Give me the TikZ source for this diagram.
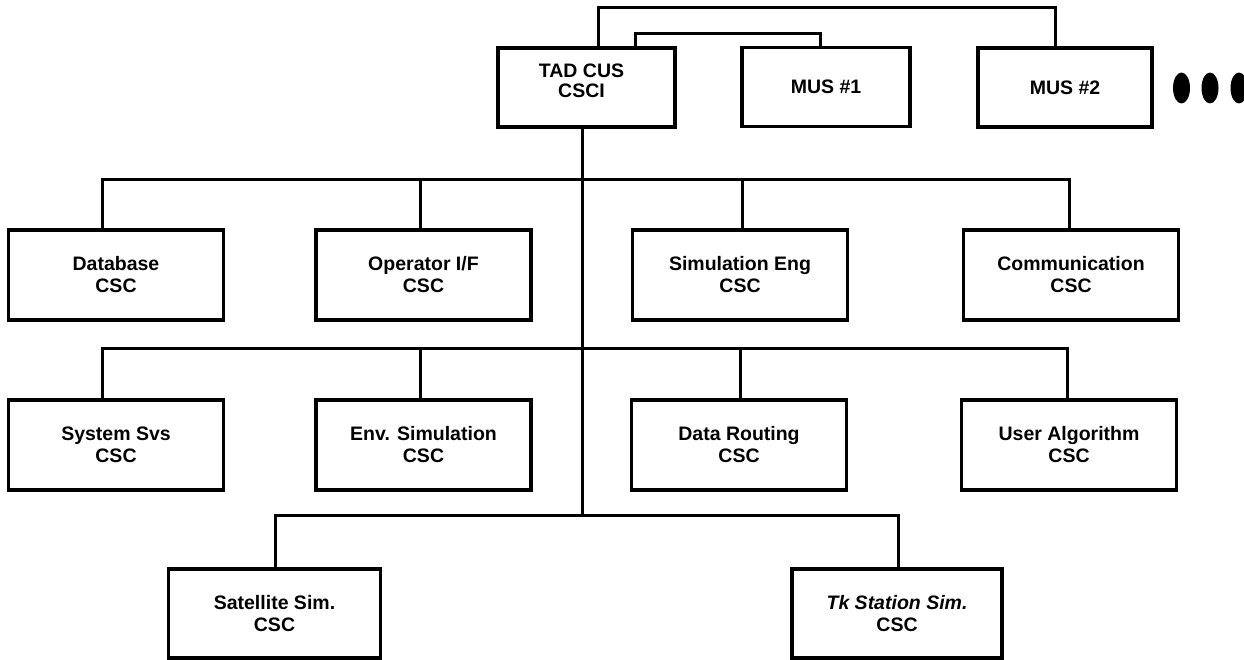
\documentclass[tikz,border=0pt]{standalone}
\usepackage{fontspec}
\setmainfont{Liberation Sans}
\begin{document}
\begin{tikzpicture}[x=1pt,y=-1pt,
  box/.style={draw, line width=3.4pt, align=center, inner sep=0pt,
    font=\bfseries\fontsize{19.5}{22}\selectfont},
  topbox/.style={box, minimum height=79pt},
  cscbox/.style={box, minimum height=90pt, minimum width=215pt},
  botbox/.style={box, minimum height=89pt, minimum width=212pt},
  conn/.style={line width=3pt, line cap=rect, line join=miter},
  dot/.style={fill=black, draw=none}]
\useasboundingbox (0,0) rectangle (1244,660);
\clip (0,0) rectangle (1244,660);

% top row
\node[topbox, minimum width=177pt,
  label={[shift={(-5pt,7pt)}, font=\bfseries\fontsize{19.5}{20}\selectfont, align=center]center:TAD CUS\\CSCI}]
  (tad) at (586.5,87.5) {};
\node[topbox, minimum width=168pt] (mus1) at (826,87) {MUS \#1};
\node[topbox, minimum width=174pt] (mus2) at (1065,87.5) {MUS \#2};

% continuation dots
\fill[dot] (1181.5,88) ellipse [x radius=8.5pt, y radius=15.5pt];
\fill[dot] (1210,88) ellipse [x radius=8.5pt, y radius=15.5pt];
\fill[dot] (1239,88) ellipse [x radius=8.5pt, y radius=15.5pt];

% level 1
\node[cscbox] (db)   at (116,275)   {Database\\CSC};
\node[cscbox] (op)   at (423.5,275) {Operator I/F\\CSC};
\node[cscbox] (sim)  at (740,275)   {Simulation Eng\\CSC};
\node[cscbox] (comm) at (1071,275)  {Communication\\CSC};

% level 2
\node[cscbox] (sys)  at (116,445)   {System Svs\\CSC};
\node[cscbox] (env)  at (423.5,445) {Env. Simulation\\CSC};
\node[cscbox] (dr)   at (739,445)   {Data Routing\\CSC};
\node[cscbox] (ua)   at (1069,445)  {User Algorithm\\CSC};

% level 3
\node[botbox] (sat) at (274.5,613.5) {Satellite Sim.\\CSC};
\node[botbox, minimum width=210pt] (tk) at (897,613.5) {\itshape Tk Station Sim.\\CSC};

% junction coordinates
\coordinate (o1) at (598,8);
\coordinate (o2) at (1055,8);
\coordinate (i1) at (635,34);
\coordinate (i2) at (820,34);
\coordinate (t1) at (582,515);
\coordinate (a1) at (102,180);
\coordinate (a2) at (420,180);
\coordinate (a3) at (742,180);
\coordinate (a4) at (1069,180);
\coordinate (b1) at (102,348);
\coordinate (b2) at (420,348);
\coordinate (b3) at (740,348);
\coordinate (b4) at (1067,348);
\coordinate (c1) at (275,515);
\coordinate (c2) at (898,515);

% top connectors
\draw[conn] (o1 |- tad.north) -- (o1) -- (o2) -- (o2 |- mus2.north);
\draw[conn] (i1 |- tad.north) -- (i1) -- (i2) -- (i2 |- mus1.north);

% trunk
\draw[conn] (t1 |- tad.south) -- (t1);

% level 1 bus
\draw[conn] (a1) -- (a4);
\draw[conn] (a1) -- (a1 |- db.north);
\draw[conn] (a2) -- (a2 |- op.north);
\draw[conn] (a3) -- (a3 |- sim.north);
\draw[conn] (a4) -- (a4 |- comm.north);

% level 2 bus
\draw[conn] (b1) -- (b4);
\draw[conn] (b1) -- (b1 |- sys.north);
\draw[conn] (b2) -- (b2 |- env.north);
\draw[conn] (b3) -- (b3 |- dr.north);
\draw[conn] (b4) -- (b4 |- ua.north);

% level 3 bus
\draw[conn] (c1) -- (c2);
\draw[conn] (c1) -- (c1 |- sat.north);
\draw[conn] (c2) -- (c2 |- tk.north);
\end{tikzpicture}
\end{document}
